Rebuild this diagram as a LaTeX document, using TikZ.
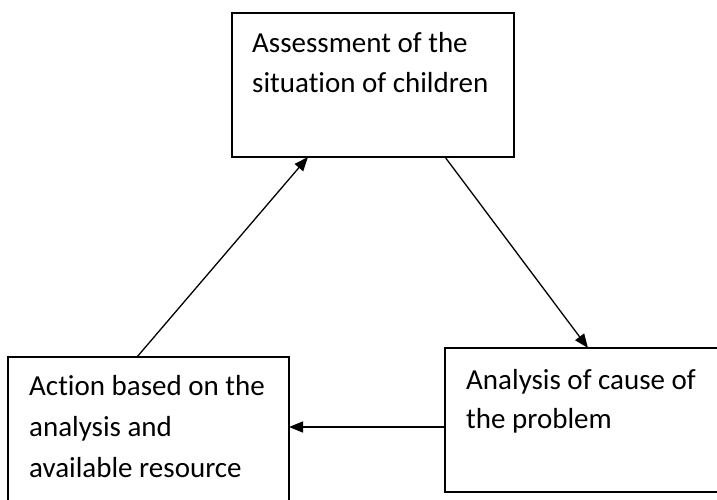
\documentclass[tikz,border=0pt]{standalone}
\usepackage{fontspec}
\setmainfont[Ligatures={NoCommon}]{Carlito}
\usetikzlibrary{arrows.meta}
\begin{document}
\begin{tikzpicture}[x=1pt,y=-1pt,
  box/.style={draw, line width=1.5pt, inner sep=0pt, outer sep=0pt, anchor=north west},
  lbl/.style={anchor=base west, inner sep=0pt},
  conn/.style={line width=1.3pt, -{Triangle[length=14pt,width=11pt]}}]
\useasboundingbox (0,0) rectangle (717,499);
\clip (0,0) rectangle (717,499);
% boxes
\node[box, minimum width=282pt, minimum height=144pt] (assess) at (232,13) {};
\node[box, minimum width=320pt, minimum height=144pt] (cause) at (445,348) {};
\node[box, minimum width=281pt, minimum height=160pt] (action) at (8,357) {};
% texts
\node[lbl] (assesstext) at (252,52) {\parbox[t]{300pt}{\fontsize{29}{40}\selectfont\raggedright Assessment of the\\situation of children}};
\node[lbl] (causetext) at (466,389) {\parbox[t]{300pt}{\fontsize{29}{39}\selectfont\raggedright Analysis of cause of\\the problem}};
\node[lbl] (actiontext) at (29,395) {\parbox[t]{300pt}{\fontsize{29}{41}\selectfont\raggedright Action based on the\\analysis and\\available resource}};
% connectors
\draw[conn] ([xshift=129pt]action.north west) -- ([xshift=76pt]assess.south west);
\draw[conn] ([xshift=213pt]assess.south west) -- ([xshift=143pt]cause.north west);
\draw[conn] ([yshift=-7pt]cause.west) -- ([yshift=10pt]action.east);
\end{tikzpicture}
\end{document}
